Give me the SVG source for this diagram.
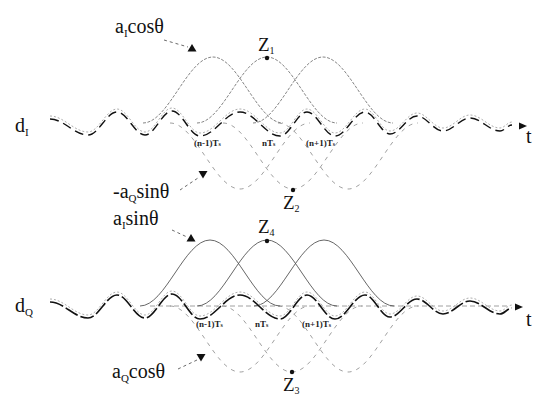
<svg xmlns="http://www.w3.org/2000/svg" width="541" height="401" viewBox="0 0 541 401">
<style>
  .lbl{font-family:"Liberation Serif","Times New Roman",serif;font-size:20px;fill:#111}
  .z{font-family:"Liberation Serif","Times New Roman",serif;font-size:19px;fill:#111}
  .ts{font-family:"Liberation Serif","Times New Roman",serif;font-size:9px;font-weight:bold;fill:#222}
  .up1{fill:none;stroke:#777;stroke-width:0.9;stroke-dasharray:3 1.5}
  .up2{fill:none;stroke:#555;stroke-width:0.9}
  .low{fill:none;stroke:#888;stroke-width:0.8;stroke-dasharray:4 5}
  .wave{fill:none;stroke:#111;stroke-width:1.4;stroke-dasharray:9 5}
  .wave2{fill:none;stroke:#111;stroke-width:1.6;stroke-dasharray:14 3}
  .ghost{fill:none;stroke:#999;stroke-width:0.8;stroke-dasharray:2 2}
  .ann{fill:none;stroke:#444;stroke-width:0.8;stroke-dasharray:3 3}
  .base{fill:none;stroke:#888;stroke-width:0.8;stroke-dasharray:5 3}
</style>
<defs>
  <path id="pu" d="M-70,0 C-44.5,0 -25.5,-66 0,-66 C25.5,-66 44.5,0 70,0"/>
  <path id="pd" d="M-70,0 C-44.5,0 -25.5,66 0,66 C25.5,66 44.5,0 70,0"/>
  <path id="wv" d="M50,119 C63.8,119 74.2,135 88,135 C98.6,135 106.4,112 117,112 C127.2,112 134.8,135 145,135 C154.8,135 162.2,111 172,111 C182.2,111 189.8,136 200,136 C214.6,136 225.4,112 240,112 C254.6,112 265.4,136 280,136 C289.8,136 297.2,112 307,112 C317.2,112 324.8,136 335,136 C345.9,136 354.1,112 365,112 C374.1,112 380.9,134 390,134 C399.8,134 407.2,116 417,116 C426.5,116 433.5,131 443,131 C452.8,131 460.2,118 470,118 C480.9,118 489.1,131 500,131 C504.4,131 507.6,125 512,125"/>
</defs>

<g id="panel-dI">
  <g id="dI-pulses-upper">
    <use href="#pu" class="up1" transform="translate(213,123)"/>
    <use href="#pu" class="up1" transform="translate(267,123)"/>
    <use href="#pu" class="up1" transform="translate(323,123)"/>
  </g>
  <g id="dI-pulses-lower">
    <use href="#pd" class="low" transform="translate(240,123)"/>
    <use href="#pd" class="low" transform="translate(293,123)"/>
    <use href="#pd" class="low" transform="translate(348,123)"/>
  </g>
  <g id="dI-wave">
    <use href="#wv" class="ghost" transform="translate(0,-3)"/>
    <use href="#wv" class="wave"/>
    <polygon points="519,122.5 527,126 519,129.5" fill="#111"/>
  </g>
  <text class="lbl" x="15" y="132">d<tspan font-size="11" dy="4">I</tspan></text>
  <text class="lbl" x="526" y="143">t</text>
  <text class="ts" x="194" y="146">(n-1)T<tspan font-size="6">s</tspan></text>
  <text class="ts" x="262" y="146">nT<tspan font-size="6">s</tspan></text>
  <text class="ts" x="306" y="146">(n+1)T<tspan font-size="6">s</tspan></text>
  <g id="Z1"><circle cx="267" cy="58" r="2.2" fill="#111"/><text class="z" x="258" y="51">Z<tspan font-size="10" dy="3">1</tspan></text></g>
  <g id="Z2"><circle cx="293" cy="190" r="2.2" fill="#111"/><text class="z" x="283" y="209">Z<tspan font-size="10" dy="3">2</tspan></text></g>
</g>

<g id="panel-dQ">
  <line class="base" x1="150" y1="306" x2="510" y2="306"/>
  <g id="dQ-pulses-upper">
    <use href="#pu" class="up2" transform="translate(210,306)"/>
    <use href="#pu" class="up2" transform="translate(267,306)"/>
    <use href="#pu" class="up2" transform="translate(324,306)"/>
  </g>
  <g id="dQ-pulses-lower">
    <use href="#pd" class="low" transform="translate(240,306)"/>
    <use href="#pd" class="low" transform="translate(292,306)"/>
    <use href="#pd" class="low" transform="translate(348,306)"/>
  </g>
  <g id="dQ-wave">
    <use href="#wv" class="ghost" transform="translate(0,180)"/>
    <use href="#wv" class="wave2" transform="translate(0,183)"/>
    <polygon points="515,303.5 523,307 515,310.5" fill="#111"/>
  </g>
  <text class="lbl" x="15" y="312">d<tspan font-size="11" dy="4">Q</tspan></text>
  <text class="lbl" x="526" y="326">t</text>
  <text class="ts" x="196" y="327">(n-1)T<tspan font-size="6">s</tspan></text>
  <text class="ts" x="255" y="327">nT<tspan font-size="6">s</tspan></text>
  <text class="ts" x="302" y="327">(n+1)T<tspan font-size="6">s</tspan></text>
  <g id="Z4"><circle cx="267" cy="241" r="2.2" fill="#111"/><text class="z" x="258" y="233">Z<tspan font-size="10" dy="3">4</tspan></text></g>
  <g id="Z3"><circle cx="292" cy="372" r="2.2" fill="#111"/><text class="z" x="283" y="391">Z<tspan font-size="10" dy="3">3</tspan></text></g>
</g>

<g id="annotations">
  <g id="ann-aIcos">
    <text class="lbl" x="115" y="33">a<tspan font-size="11" dy="4">I</tspan><tspan dy="-4">cosθ</tspan></text>
    <line class="ann" x1="164" y1="40" x2="188" y2="47"/>
    <polygon points="192,44 196.5,51.5 187.5,51.5" fill="#111"/>
  </g>
  <g id="ann-aQsin">
    <text class="lbl" x="113" y="198">-a<tspan font-size="11" dy="4">Q</tspan><tspan dy="-4">sinθ</tspan></text>
    <line class="ann" x1="180" y1="190" x2="198" y2="178"/>
    <polygon points="198.5,171 207.5,171 203,178.5" fill="#111"/>
  </g>
  <g id="ann-aIsin">
    <text class="lbl" x="113" y="225">a<tspan font-size="11" dy="4">I</tspan><tspan dy="-4">sinθ</tspan></text>
    <line class="ann" x1="172" y1="230" x2="187" y2="237"/>
    <polygon points="191,234 195.5,241.5 186.5,241.5" fill="#111"/>
  </g>
  <g id="ann-aQcos">
    <text class="lbl" x="112" y="378">a<tspan font-size="11" dy="4">Q</tspan><tspan dy="-4">cosθ</tspan></text>
    <line class="ann" x1="178" y1="369" x2="197" y2="360"/>
    <polygon points="196.5,354 205.5,354 201,361.5" fill="#111"/>
  </g>
</g>
</svg>
